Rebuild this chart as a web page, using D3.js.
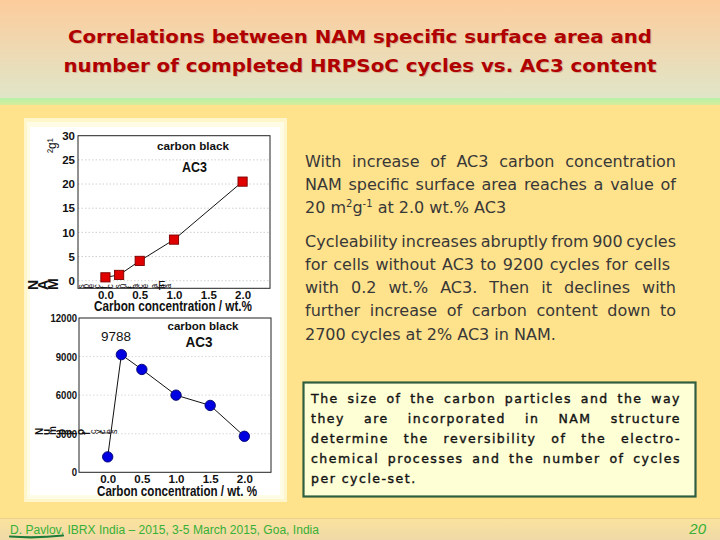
<!DOCTYPE html>
<html><head><meta charset="utf-8">
<script src="https://cdn.jsdelivr.net/npm/d3@7"></script>
<style>
body{margin:0;background:#FFE28C}
svg{display:block}
.tk{font-family:'Liberation Sans',Arial,sans-serif;font-weight:bold;font-size:11.5px;fill:#111}
.lbl{font-family:'Liberation Sans',Arial,sans-serif;font-weight:bold;fill:#111}
.p{font-family:'DejaVu Sans',Verdana,sans-serif;font-size:16px;fill:#383838}
.b{font-family:'DejaVu Sans',Verdana,sans-serif;font-size:12.5px;letter-spacing:1.5px;fill:#141414;stroke:#141414;stroke-width:0.4}
</style></head>
<body>
<svg id="c" width="720" height="540"></svg>
<script>
// ---- data ----
const titleLines = ["Correlations between NAM specific surface area and",
                    "number of completed HRPSoC cycles vs. AC3 content"];
const areaConc = [0.0, 0.2, 0.5, 1.0, 2.0];
const areaValues = [0.7, 1.2, 4.1, 8.5, 20.5];
const cycleConc = [0.0, 0.2, 0.5, 1.0, 1.5, 2.0];
const cycleValues = [1200, 9150, 8000, 6000, 5200, 2800];
const xTickValues = [0.0, 0.5, 1.0, 1.5, 2.0];
const areaTickValues = [0, 5, 10, 15, 20, 25, 30];
const cycleTickValues = [0, 3000, 6000, 9000, 12000];
const peakLabel = "9788";
const xAxisTitleTop = "Carbon concentration / wt.%";
const xAxisTitleBottom = "Carbon concentration / wt. %";
const para1 = ["With increase of AC3 carbon concentration",
               "NAM specific surface area reaches a value of"];
const para2 = ["Cycleability increases abruptly from 900 cycles",
               "for cells without AC3 to 9200 cycles for cells",
               "with 0.2 wt.% AC3. Then it declines with",
               "further increase of carbon content down to",
               "2700 cycles at 2% AC3 in NAM."];
const boxLines = ["The size of the carbon particles and the way",
                  "they are incorporated in NAM structure",
                  "determine the reversibility of the electro-",
                  "chemical processes and the number of cycles",
                  "per cycle-set."];
const footerText = "D. Pavlov, IBRX India – 2015, 3-5 March 2015, Goa, India";
const pageNumber = "20";

const svg = d3.select("#c");
const defs = svg.append("defs");
const hg = defs.append("linearGradient").attr("id","hg").attr("x1",0).attr("y1",0).attr("x2",0).attr("y2",1);
hg.append("stop").attr("offset","0%").attr("stop-color","#FDCC9C");
hg.append("stop").attr("offset","100%").attr("stop-color","#E0E6C8");
const fg = defs.append("linearGradient").attr("id","fg").attr("x1",0).attr("y1",0).attr("x2",0).attr("y2",1);
fg.append("stop").attr("offset","0%").attr("stop-color","#FBE39E");
fg.append("stop").attr("offset","100%").attr("stop-color","#F0D9A6");
const gg = defs.append("linearGradient").attr("id","gg").attr("x1",0).attr("y1",0).attr("x2",0).attr("y2",1);
gg.append("stop").attr("offset","0%").attr("stop-color","#B6F2A6");
gg.append("stop").attr("offset","100%").attr("stop-color","#D8EC9C");

// background
svg.append("rect").attr("width",720).attr("height",540).attr("fill","#FFE28C");
svg.append("rect").attr("width",720).attr("height",98).attr("fill","url(#hg)");
svg.append("rect").attr("y",98).attr("width",720).attr("height",7).attr("fill","url(#gg)");
svg.append("rect").attr("y",518).attr("width",720).attr("height",22).attr("fill","url(#fg)");
svg.append("line").attr("x1",0).attr("x2",720).attr("y1",518.5).attr("y2",518.5).attr("stroke","#EAD392");

// title
titleLines.forEach((t,i)=>{
  const y = [43,72][i];
  const w = [584,593][i];
  svg.append("text").attr("x",361).attr("y",y+1.2).attr("text-anchor","middle")
    .attr("textLength",w).attr("lengthAdjust","spacingAndGlyphs")
    .style("font-family","'DejaVu Sans Condensed','DejaVu Sans',sans-serif").style("font-weight","bold")
    .style("font-size","18.5px").attr("fill","#c09070").attr("opacity",0.55).text(t);
  svg.append("text").attr("x",360).attr("y",y).attr("text-anchor","middle")
    .attr("textLength",w).attr("lengthAdjust","spacingAndGlyphs")
    .style("font-family","'DejaVu Sans Condensed','DejaVu Sans',sans-serif").style("font-weight","bold")
    .style("font-size","18.5px").attr("fill","#B00000").text(t);
});

// white panel
svg.append("rect").attr("x",24).attr("y",118).attr("width",263).attr("height",384).attr("fill","#FFF6CC");
svg.append("rect").attr("x",27).attr("y",122).attr("width",257).attr("height",377).attr("fill","#FFFCE6");
svg.append("rect").attr("x",30).attr("y",127).attr("width",250).attr("height",368).attr("fill","#FFFFFF");

// ---- upper chart ----
const x1 = d3.scaleLinear().domain([-0.4, 2.4]).range([78, 270]);
const y1 = d3.scaleLinear().domain([-1.57, 30]).range([288.3, 135.7]);
const g1 = svg.append("g");
g1.selectAll("line.grid").data(areaTickValues.slice(0,-1)).join("line")
  .attr("x1",78).attr("x2",270).attr("y1",d=>y1(d)).attr("y2",d=>y1(d))
  .attr("stroke","#c4c4c4").attr("stroke-width",0.8).attr("stroke-dasharray","1.5,2");
g1.append("rect").attr("x",78).attr("y",y1(30)).attr("width",192).attr("height",y1(-1.57)-y1(30))
  .attr("fill","none").attr("stroke","#222").attr("stroke-width",1);
const ay1 = g1.append("g").attr("transform","translate(78,0)")
  .call(d3.axisLeft(y1).tickValues(areaTickValues).tickSize(0).tickPadding(3));
ay1.select(".domain").remove();
ay1.selectAll("text").attr("class","tk");
const ax1 = g1.append("g").attr("transform",`translate(0,${y1(-1.57)})`)
  .call(d3.axisBottom(x1).tickValues(xTickValues).tickFormat(d3.format(".1f")).tickSize(0).tickPadding(3));
ax1.select(".domain").remove();
ax1.selectAll("text").attr("class","tk");
const areaData = areaConc.map((c,i)=>({c, v: areaValues[i]}));
g1.append("path").datum(areaData)
  .attr("d", d3.line().x(d=>x1(d.c)).y(d=>y1(d.v)))
  .attr("fill","none").attr("stroke","#111").attr("stroke-width",1);
g1.selectAll("rect.pt").data(areaData).join("rect")
  .attr("x",d=>x1(d.c)-4.6).attr("y",d=>y1(d.v)-4.6).attr("width",9.2).attr("height",9.2)
  .attr("fill","#E00000").attr("stroke","#7a0000").attr("stroke-width",0.9);
g1.append("text").attr("class","lbl").attr("x",193).attr("y",150).attr("text-anchor","middle")
  .style("font-size","11.5px").attr("textLength",72).attr("lengthAdjust","spacingAndGlyphs").text("carbon black");
g1.append("text").attr("class","lbl").attr("x",194.5).attr("y",171.5).attr("text-anchor","middle")
  .style("font-size","14px").attr("textLength",25).attr("lengthAdjust","spacingAndGlyphs").text("AC3");
g1.append("text").attr("class","lbl").attr("x",173).attr("y",311).attr("text-anchor","middle")
  .style("font-size","14.5px").attr("textLength",158).attr("lengthAdjust","spacingAndGlyphs").text(xAxisTitleTop);
// rotated axis label remnants
g1.append("text").attr("class","lbl").attr("transform","translate(56,153) rotate(-90)")
  .style("font-size","12px").style("font-weight","normal").text("²g¹");
g1.append("text").attr("class","lbl").attr("x",38).attr("y",290).attr("rotate","-90")
  .style("font-size","14px").text("NAM");
g1.append("text").attr("class","lbl").attr("x",84).attr("y",288.5).attr("rotate","-90")
  .style("font-size","8.5px").style("font-weight","normal").style("letter-spacing","0.7px")
  .text("specific surface area");
g1.append("text").attr("class","lbl").attr("x",158).attr("y",290)
  .style("font-size","12px").style("font-weight","normal").text("F");

// ---- lower chart ----
const x2 = d3.scaleLinear().domain([-0.42, 2.39]).range([79, 271]);
const y2 = d3.scaleLinear().domain([0, 12000]).range([472.3, 318]);
const g2 = svg.append("g");
g2.selectAll("line.grid").data(cycleTickValues.slice(1,-1)).join("line")
  .attr("x1",79).attr("x2",271).attr("y1",d=>y2(d)).attr("y2",d=>y2(d))
  .attr("stroke","#cfcfcf").attr("stroke-width",0.8).attr("stroke-dasharray","1.5,2");
g2.append("rect").attr("x",79).attr("y",y2(12000)).attr("width",192).attr("height",y2(0)-y2(12000))
  .attr("fill","none").attr("stroke","#222").attr("stroke-width",1);
const ay2 = g2.append("g").attr("transform","translate(79,0)")
  .call(d3.axisLeft(y2).tickValues(cycleTickValues).tickFormat(d3.format("d")).tickSize(0).tickPadding(2));
ay2.select(".domain").remove();
ay2.selectAll("text").attr("class","tk").style("font-size","11.5px")
  .attr("textLength",d=>String(d).length*5.3).attr("lengthAdjust","spacingAndGlyphs");
const ax2 = g2.append("g").attr("transform",`translate(0,${y2(0)})`)
  .call(d3.axisBottom(x2).tickValues(xTickValues).tickFormat(d3.format(".1f")).tickSize(0).tickPadding(2.8));
ax2.select(".domain").remove();
ax2.selectAll("text").attr("class","tk");
const cycleData = cycleConc.map((c,i)=>({c, v: cycleValues[i]}));
g2.append("path").datum(cycleData)
  .attr("d", d3.line().x(d=>x2(d.c)).y(d=>y2(d.v)))
  .attr("fill","none").attr("stroke","#111").attr("stroke-width",1);
g2.selectAll("circle.pt").data(cycleData).join("circle")
  .attr("cx",d=>x2(d.c)).attr("cy",d=>y2(d.v)).attr("r",5.2)
  .attr("fill","#0000E0").attr("stroke","#00006a").attr("stroke-width",0.9);
g2.append("text").attr("class","lbl").attr("x",116).attr("y",340.5).attr("text-anchor","middle")
  .style("font-size","13.5px").style("font-weight","normal").text(peakLabel);
g2.append("text").attr("class","lbl").attr("x",203).attr("y",329.5).attr("text-anchor","middle")
  .style("font-size","11.5px").attr("textLength",71).attr("lengthAdjust","spacingAndGlyphs").text("carbon black");
g2.append("text").attr("class","lbl").attr("x",199).attr("y",346.5).attr("text-anchor","middle")
  .style("font-size","14px").attr("textLength",27).attr("lengthAdjust","spacingAndGlyphs").text("AC3");
g2.append("text").attr("class","lbl").attr("x",177).attr("y",496).attr("text-anchor","middle")
  .style("font-size","14.5px").attr("textLength",160).attr("lengthAdjust","spacingAndGlyphs").text(xAxisTitleBottom);
g2.append("text").attr("class","lbl").attr("x",43).attr("y",435).attr("rotate","-90")
  .style("font-size","10px").text("Number of");
g2.append("text").attr("class","lbl").attr("x",96).attr("y",434).attr("rotate","-90")
  .style("font-size","9px").style("font-weight","normal").text("cycles");

// ---- right side text ----
function textLine(parent, line, x, y, width, justify, cls){
  if(!justify){ return parent.append("text").attr("class",cls).attr("x",x).attr("y",y).text(line); }
  const words = line.trim().split(/\s+/);
  const nodes = words.map(w => parent.append("text").attr("class",cls).attr("y",y).text(w));
  const ws = nodes.map(n => n.node().getComputedTextLength());
  const gap = (width - d3.sum(ws)) / (words.length - 1);
  let cx = x;
  nodes.forEach((n,i)=>{ n.attr("x",cx); cx += ws[i] + gap; });
}
const tg = svg.append("g");
const p1y = [166.5, 189.8];
para1.forEach((l,i)=>textLine(tg, l, 305, p1y[i], 371, true, "p"));
const sup = tg.append("text").attr("class","p").attr("x",305).attr("y",213);
sup.append("tspan").text("20 m");
sup.append("tspan").attr("dy",-6).style("font-size","10px").text("2");
sup.append("tspan").attr("dy",6).text("g");
sup.append("tspan").attr("dy",-6).style("font-size","10px").text("-1");
sup.append("tspan").attr("dy",6).text(" at 2.0 wt.% AC3");
const p2y = [246.5, 269.8, 293, 316.3, 339.5];
const p2w = [371, 365, 371, 371, 0];
para2.forEach((l,i)=>textLine(tg, l, 305, p2y[i], p2w[i], i < para2.length-1, "p"));

// box
svg.append("rect").attr("x",303.5).attr("y",382.5).attr("width",392).attr("height",114)
  .attr("fill","#FFFFD6").attr("stroke","#2F5E40").attr("stroke-width",2.2);
const by = [402.5, 422.5, 442.5, 462.5, 482.5];
boxLines.forEach((l,i)=>textLine(svg, l, 311, by[i], 370, i < boxLines.length-1, "b"));

// footer
svg.append("text").attr("x",10).attr("y",534).attr("textLength",309).attr("lengthAdjust","spacingAndGlyphs")
  .style("font-family","'Liberation Sans',Arial,sans-serif").style("font-size","12.5px").attr("fill","#36B036")
  .text(footerText);
svg.append("path").attr("d","M10,536.5 Q36,538.5 63,535.5").attr("fill","none")
  .attr("stroke","#1E7A3A").attr("stroke-width",2.2).attr("stroke-linecap","round");
svg.append("text").attr("x",706).attr("y",534).attr("text-anchor","end")
  .style("font-family","'Liberation Sans',Arial,sans-serif").style("font-style","italic").style("font-size","15px")
  .attr("fill","#36B036").text(pageNumber);
</script>
</body></html>
